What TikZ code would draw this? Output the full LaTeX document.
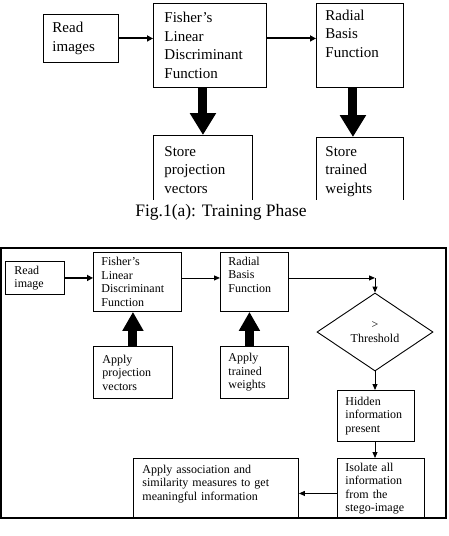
\documentclass[tikz,border=0pt]{standalone}
\usepackage{fontspec}
\setmainfont{Liberation Serif}
\usetikzlibrary{arrows.meta,shapes.geometric,calc}
\hyphenpenalty=10000
\exhyphenpenalty=10000

\begin{document}
\begin{tikzpicture}[x=1pt,y=-1pt,
    box/.style={draw,line width=0.9pt,anchor=north west,align=left,inner xsep=9pt},
    big/.style={font=\fontsize{15}{18.5}\selectfont},
    small/.style={font=\fontsize{12}{13.5}\selectfont},
    bigarr/.style={line width=9pt,-{Triangle[width=25pt,length=22pt]}},
    bigarrb/.style={line width=9pt,-{Triangle[width=20pt,length=19pt]}},
    midarr/.style={line width=2pt,-{Triangle[width=6pt,length=6pt]}},
    smallarr/.style={line width=0.9pt,-{Triangle[width=5pt,length=6pt]}}]
  \useasboundingbox (0,0) rectangle (448,536);
  % training phase (bottom of the store boxes is cut off)
  \begin{scope}
    \clip (0,0) rectangle (448,199);
    \node[box,big,text width=57pt,minimum height=48pt] (read1) at (43,14) {Read\\images};
    \node[box,big,inner xsep=11pt,text width=91pt,minimum height=84pt] (fld1) at (153,3)
         {Fisher's\\Linear\\Discriminant\\Function};
    \node[box,big,text width=69pt,inner ysep=4pt,text height=13pt,text depth=63pt] (rbf1) at (316,3)
         {Radial\\Basis\\Function};
    \node[box,big,inner xsep=11pt,text width=77pt,inner ysep=4pt,text height=17pt,text depth=55pt] (sto1) at (153,135)
         {Store\\projection\\vectors};
    \node[box,big,text width=69pt,inner ysep=4pt,text height=15pt,text depth=55pt] (sto2) at (316,137)
         {Store\\trained\\weights};
    \draw[midarr] (read1.east) -- (read1.east -| fld1.west);
    \draw[midarr] (fld1.east |- read1.east) -- (rbf1.west |- read1.east);
    \draw[bigarr] (sto1.north |- fld1.south) -- (sto1.north);
    \draw[bigarr] ([xshift=-7pt]sto2.north |- rbf1.south) -- ([xshift=-7pt]sto2.north);
  \end{scope}
  \node[font=\fontsize{17.5}{20}\selectfont] (cap) at (221,212) {Fig.1(a): Training Phase};

  % testing phase
  \draw[line width=1.5pt] (1,248) rectangle (446,518); % frame
  \node[box,small,text width=41pt,minimum height=33pt] (read2) at (5,261) {Read\\image};
  \node[box,small,inner xsep=8pt,text width=72pt,minimum height=59pt] (fld2) at (93,252)
       {Fisher's\\Linear\\Discriminant\\Function};
  \node[box,small,inner xsep=8pt,text width=52pt,inner ysep=3pt,text height=10pt,text depth=43pt] (rbf2) at (220,252)
       {Radial\\Basis\\Function};
  \node[draw,line width=0.9pt,diamond,aspect=1.49,minimum width=116pt,minimum height=78pt,inner sep=0pt,
        small,align=center] (dia) at (375,332) {\textgreater\\Threshold};
  \node[box,small,text width=61pt,minimum height=52pt] (app1) at (93,346) {Apply\\projection\\vectors};
  \node[box,small,inner xsep=8pt,text width=52pt,minimum height=52pt] (app2) at (220,346) {Apply\\trained\\weights};
  \node[box,small,inner xsep=8pt,text width=61pt,minimum height=51pt] (hid) at (337,390)
       {Hidden\\information\\present};
  \node[box,small,inner xsep=8pt,text width=71pt,minimum height=60pt] (iso) at (337,458)
       {Isolate all\\information\\from the\\stego-image};
  \node[box,small,text width=147pt,inner ysep=3pt,text height=12pt,text depth=42pt] (assoc) at (133,458)
       {Apply association and\\similarity measures to get\\meaningful information};
  \coordinate (bend) at (dia.north |- read2.east);
  \draw[midarr] (read2.east) -- (read2.east -| fld2.west);
  \draw[smallarr] (fld2.east |- read2.east) -- (rbf2.west |- read2.east);
  \draw[smallarr] (rbf2.east |- read2.east) -- (bend);
  \draw[smallarr] (bend) -- (dia.north);
  \draw[smallarr] (dia.south) -- (hid.north -| dia.south);
  \draw[smallarr] (hid.south -| dia.south) -- (iso.north -| dia.south);
  \draw[smallarr] ([yshift=-5pt]iso.west) -- ([yshift=-5pt]iso.west -| assoc.east);
  \draw[bigarrb] (app1.north) -- (app1.north |- fld2.south);
  \draw[bigarrb] ([xshift=-5pt]app2.north) -- ([xshift=-5pt]app2.north |- rbf2.south);
\end{tikzpicture}
\end{document}
